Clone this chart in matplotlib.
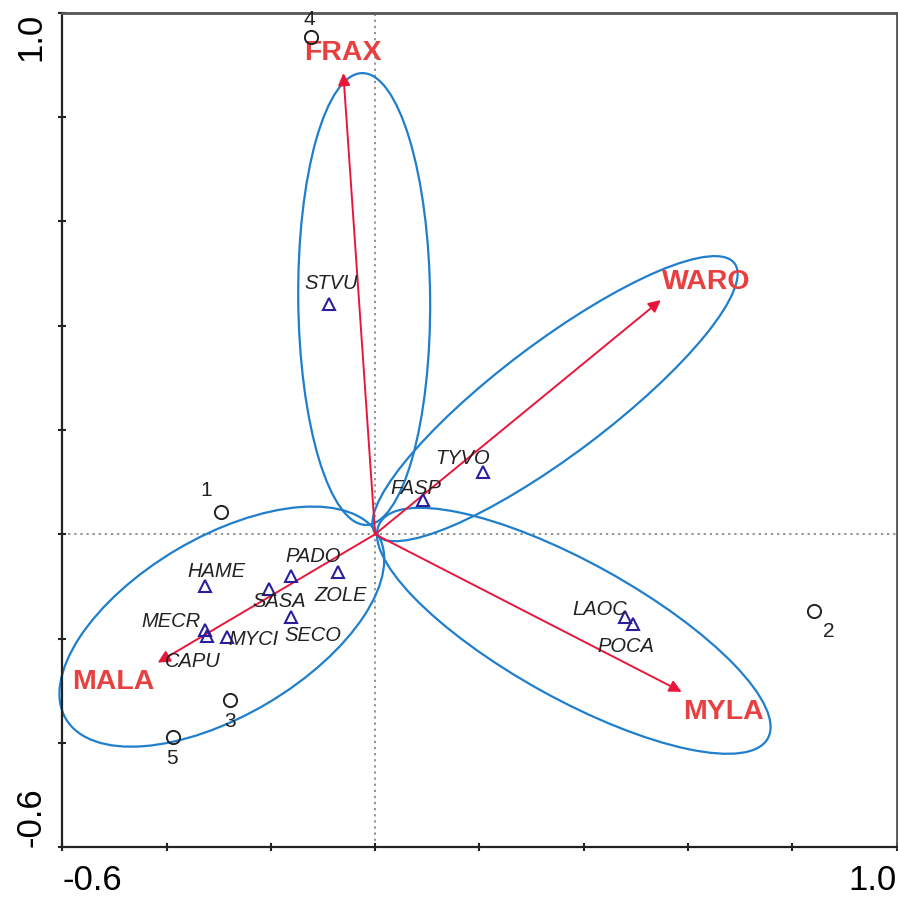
import matplotlib
matplotlib.use('Agg')
import matplotlib.pyplot as plt
from matplotlib.patches import Ellipse

plt.rcParams['font.family'] = ['Liberation Sans', 'DejaVu Sans']

# environmental variables (arrow tips)
env_names = ['FRAX', 'WARO', 'MYLA', 'MALA']
env_x = [-0.061, 0.548, 0.588, -0.417]
env_y = [0.884, 0.449, -0.302, -0.246]

# species scores
spp_names = ['STVU', 'TYVO', 'FASP', 'HAME', 'PADO', 'ZOLE', 'SASA',
             'SECO', 'MECR', 'CAPU', 'MYCI', 'LAOC', 'POCA']
spp_x = [-0.088, 0.206, 0.091, -0.326, -0.161, -0.072, -0.204,
         -0.161, -0.326, -0.323, -0.284, 0.480, 0.495]
spp_y = [0.441, 0.120, 0.066, -0.099, -0.080, -0.072, -0.105,
         -0.158, -0.183, -0.195, -0.196, -0.159, -0.172]

# sites
site_names = ['1', '2', '3', '4', '5']
site_x = [-0.295, 0.842, -0.279, -0.123, -0.387]
site_y = [0.043, -0.148, -0.318, 0.954, -0.388]

# grouping ellipses
ell_x = [-0.021, 0.345, 0.381, -0.294]
ell_y = [0.451, 0.260, -0.185, -0.177]
ell_w = [0.866, 0.862, 0.851, 0.695]
ell_h = [0.253, 0.215, 0.261, 0.342]
ell_ang = [90.5, 37.0, -29.0, 30.6]

ticks = [-0.6, -0.4, -0.2, 0.0, 0.2, 0.4, 0.6, 0.8, 1.0]

# label offsets in pixels (right, down)
spp_off = [(1.7, -21), (-20, -13.4), (-6.6, -11.7), (11, -14.3), (21.6, -19.3),
           (3.4, 23.3), (10.7, 12.4), (21.6, 18.3), (-34, -8.3), (-13.7, 25.7),
           (26, 3.3), (-26, -7.3), (-7.3, 22.7)]
site_off = [(-15, -21.7), (15, 20), (0, 21.7), (-1.7, -17), (-1.3, 21.3)]
env_off = [(-0.7, -19.7), (1.3, -18), (1, 20), (-3.3, 19.8)]
env_ha = ['center', 'left', 'left', 'right']

RED = '#e8173a'
RED_TXT = '#e84040'
BLUE = '#1f7fcc'
NAVY = '#2a1f9a'
PT = 0.72  # px -> points at 100 dpi

fig = plt.figure(figsize=(8.98, 8.97), dpi=100)
ax = fig.add_axes([62.3 / 898, 49.7 / 897, 834.2 / 898, 834.7 / 897])
ax.set_xlim(-0.6, 1.0)
ax.set_ylim(-0.6, 1.0)

ax.axhline(0, color='#777777', ls=(0, (1.5, 2.5)), lw=1.1, zorder=1)
ax.axvline(0, color='#777777', ls=(0, (1.5, 2.5)), lw=1.1, zorder=1)

for cx, cy, w, h, a in zip(ell_x, ell_y, ell_w, ell_h, ell_ang):
    ax.add_patch(Ellipse((cx, cy), w, h, angle=a, fill=False,
                         edgecolor=BLUE, lw=1.6, zorder=2, clip_on=False))

for name, x, y, off, ha in zip(env_names, env_x, env_y, env_off, env_ha):
    ax.annotate('', xy=(x, y), xytext=(0, 0),
                arrowprops=dict(arrowstyle='-|>', color=RED, lw=1.4,
                                mutation_scale=18, shrinkA=0, shrinkB=0),
                zorder=3)
    ax.annotate(name, (x, y), xytext=(off[0] * PT, -off[1] * PT),
                textcoords='offset points', ha=ha, va='center',
                fontsize=20.5, fontweight='bold', color=RED_TXT, zorder=4)

ax.plot(spp_x, spp_y, ls='none', marker='^', ms=8.5, mfc='none',
        mec=NAVY, mew=1.5, zorder=4)
for name, x, y, off in zip(spp_names, spp_x, spp_y, spp_off):
    ax.annotate(name, (x, y), xytext=(off[0] * PT, -off[1] * PT),
                textcoords='offset points', ha='center', va='center',
                fontsize=14.5, fontstyle='italic', color='#222222', zorder=5)

ax.plot(site_x, site_y, ls='none', marker='o', ms=9.5, mfc='none',
        mec='#222222', mew=1.4, zorder=4, clip_on=False)
for name, x, y, off in zip(site_names, site_x, site_y, site_off):
    ax.annotate(name, (x, y), xytext=(off[0] * PT, -off[1] * PT),
                textcoords='offset points', ha='center', va='center',
                fontsize=15, color='#222222', zorder=5)

lab = ['-0.6'] + [''] * (len(ticks) - 2) + ['1.0']
ax.set_xticks(ticks)
ax.set_xticklabels(lab, fontsize=25)
ax.set_yticks(ticks)
ax.set_yticklabels(lab, fontsize=25, rotation=90)
xl = ax.get_xticklabels()
xl[0].set_ha('left')
xl[-1].set_ha('right')
yl = ax.get_yticklabels()
yl[0].set_va('bottom')
yl[-1].set_va('top')
ax.tick_params(axis='both', direction='inout', length=6, width=1.5, color='#222222')
ax.tick_params(axis='x', pad=9)
ax.tick_params(axis='y', pad=8)

for s in ['left', 'bottom']:
    ax.spines[s].set_linewidth(1.6)
    ax.spines[s].set_color('#222222')
for s in ['top', 'right']:
    ax.spines[s].set_linewidth(2)
    ax.spines[s].set_color('#555555')

fig.savefig('out.png', dpi=100)
